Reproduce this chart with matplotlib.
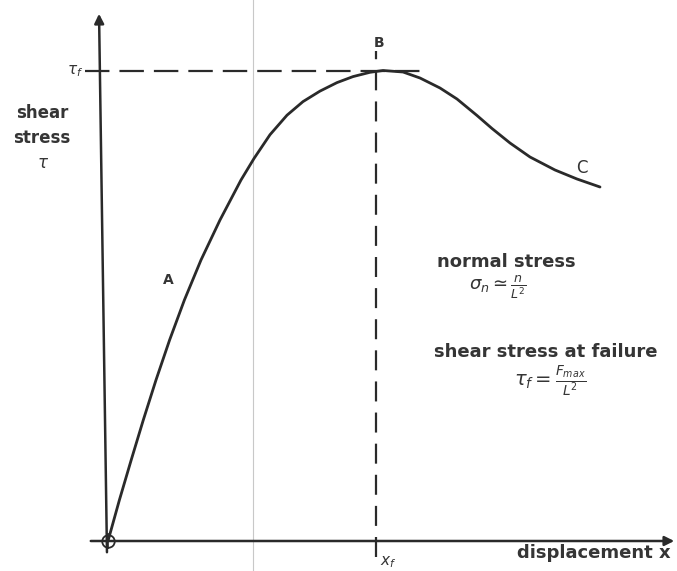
import matplotlib
matplotlib.use("Agg")
import matplotlib.pyplot as plt

plt.rcParams["mathtext.fontset"] = "dejavusans"

# Diagram data (displacement units, stress units; origin at the circle)
disp = [0, 11.4, 23.2, 35.3, 48, 61.6, 76.4, 93, 112, 133, 146, 162, 179, 195, 212, 229, 245, 262, 275,
        295, 312, 332, 349, 369, 384, 402, 422, 447, 469, 492]
stress = [0, 41, 81, 121, 161, 201, 241, 281, 321, 361, 382.5, 406.3, 425.8, 439.4, 449.9, 458.4, 464.4,
          468.7, 470.5, 469, 463, 453, 442, 425.5, 412.5, 398, 384, 371, 362, 354]
tau_f = 470.5
x_f = 268
point_labels = ["A", "B", "C"]

ink = "#2a2a2a"
txt = "#353535"
fig = plt.figure(figsize=(6.77, 5.71), dpi=100)
ax = fig.add_axes([0, 0, 1, 1])
ax.set_xlim(-108, 569)
ax.set_ylim(-30, 541)
ax.axis("off")

# scan artifact faint line
ax.plot([145, 145], [-30, 541], color="#c8c8c8", lw=0.8)

# axes
ax.annotate("", xy=(569, 0), xytext=(-20, 0),
            arrowprops=dict(arrowstyle="-|>", color=ink, lw=1.8, mutation_scale=14))
ax.annotate("", xy=(-9, 530), xytext=(-1, -14),
            arrowprops=dict(arrowstyle="-|>", color=ink, lw=1.8, mutation_scale=14))

# origin marker
ax.plot([0], [0], marker="o", ms=9, mfc="white", mec=ink, mew=1.3)
ax.plot([0], [0], marker="+", ms=12, mec=ink, mew=1.2)

# dashed guide lines
ax.plot([-23, 320], [tau_f, tau_f], color=ink, lw=1.6, dashes=(11, 4.5))
ax.plot([x_f, x_f], [-16, 490], color=ink, lw=1.6, dashes=(9, 5))

# curve
ax.plot(disp, stress, color=ink, lw=2.0, solid_capstyle="round", solid_joinstyle="round")

fkw = dict(color=txt, fontweight="bold", family="DejaVu Sans")
ax.text(60, 261, point_labels[0], fontsize=10, ha="center", va="center", **fkw)
ax.text(271, 498, point_labels[1], fontsize=10, ha="center", va="center", **fkw)
ax.text(474, 373, point_labels[2], fontsize=12, ha="center", va="center",
        color=txt, family="DejaVu Sans")

ax.text(-33, 470, r"$\tau_f$", fontsize=11, ha="center", va="center", color=txt)
ax.text(-66, 428, "shear", fontsize=12, ha="center", va="center", **fkw)
ax.text(-66, 403, "stress", fontsize=12, ha="center", va="center", **fkw)
ax.text(-65, 378, r"$\tau$", fontsize=12, ha="center", va="center", color=txt)

ax.text(398, 279, "normal stress", fontsize=13, ha="center", va="center", **fkw)
ax.text(390, 254, r"$\sigma_n \simeq \frac{n}{L^2}$", fontsize=13, ha="center", va="center", color=txt)
ax.text(438, 189, "shear stress at failure", fontsize=13, ha="center", va="center", **fkw)
ax.text(442, 160, r"$\tau_f = \frac{F_{max}}{L^2}$", fontsize=14, ha="center", va="center", color=txt)

ax.text(486, -12, "displacement x", fontsize=13, ha="center", va="center", **fkw)
ax.text(280, -21, r"$x_f$", fontsize=11, ha="center", va="center", color=txt)

fig.savefig("out.png", dpi=100, facecolor="white")
